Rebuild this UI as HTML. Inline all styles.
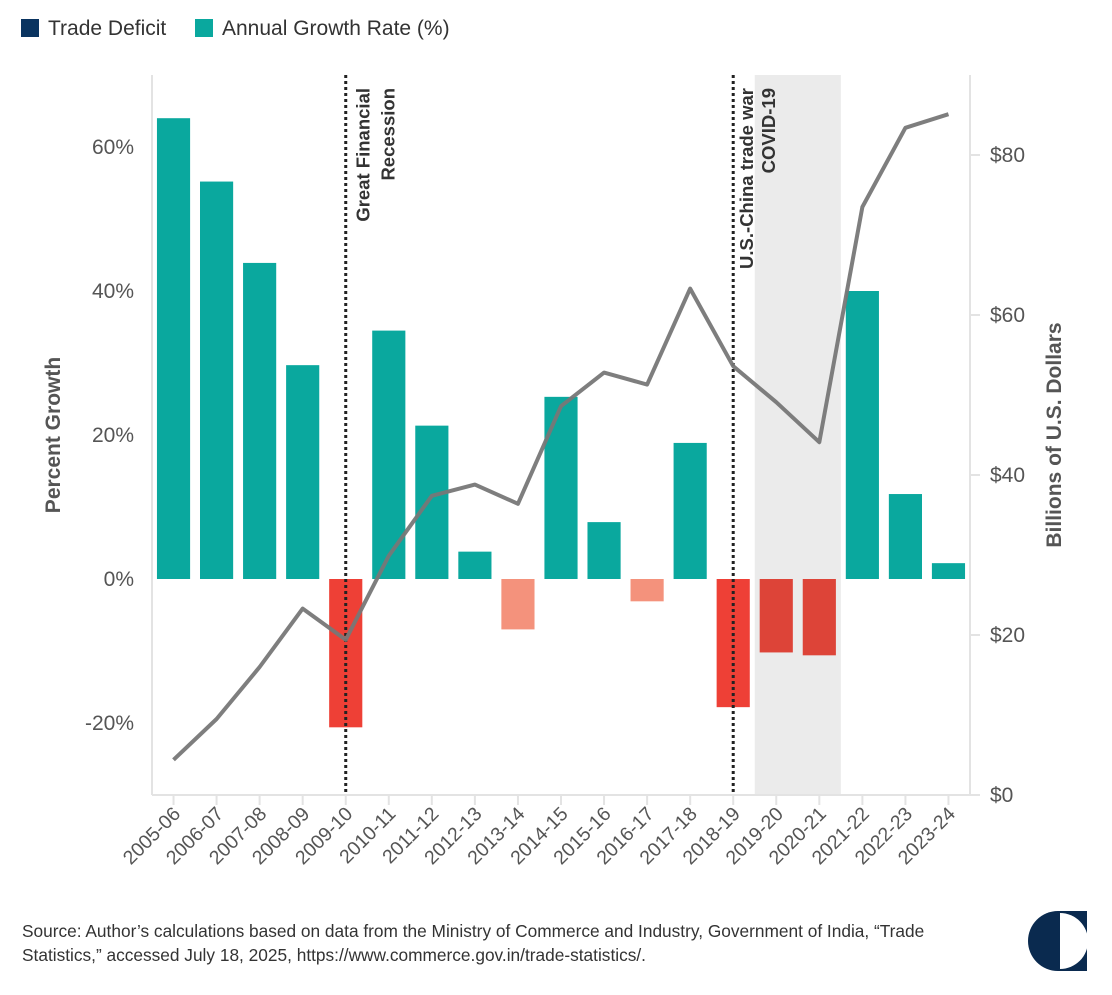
<!DOCTYPE html>
<html><head><meta charset="utf-8"><style>
body{margin:0;background:#fff;width:1112px;height:990px;overflow:hidden;font-family:"Liberation Sans",sans-serif;color:#333}
</style></head><body>
<svg id="chart" width="1112" height="990" xmlns="http://www.w3.org/2000/svg" font-family="Liberation Sans, sans-serif">
<g>
<rect x="21" y="19" width="18" height="18" fill="#0a3460"/>
<text x="48" y="35" font-size="21" fill="#333">Trade Deficit</text>
<rect x="195" y="19" width="18" height="18" fill="#0aa89e"/>
<text x="222" y="35" font-size="21" fill="#333">Annual Growth Rate (%)</text>
</g>
<g id="plot"></g>
<text x="22" y="937" font-size="17.3" fill="#333">Source: Author’s calculations based on data from the Ministry of Commerce and Industry, Government of India, “Trade</text>
<text x="22" y="961" font-size="17.3" fill="#333">Statistics,” accessed July 18, 2025, https://www.commerce.gov.in/trade-statistics/.</text>
<g>
<path d="M1058 911 A30 30 0 0 0 1058 971 Z" fill="#0a2a4f"/>
<rect x="1058" y="911" width="29" height="60" fill="#0a2a4f"/>
<path d="M1060 913 A28 28 0 0 1 1060 969 Z" fill="#fff"/>
</g>
</svg>
<script>
const categories=["2005-06","2006-07","2007-08","2008-09","2009-10","2010-11","2011-12","2012-13","2013-14","2014-15","2015-16","2016-17","2017-18","2018-19","2019-20","2020-21","2021-22","2022-23","2023-24"];
const growthValues=[64,55.2,43.9,29.7,-20.6,34.5,21.3,3.8,-7.0,25.3,7.9,-3.1,18.9,-17.8,-10.2,-10.6,40,11.8,2.2];
const deficitValues=[4.4,9.5,16,23.3,19.4,29.9,37.4,38.8,36.4,48.6,52.8,51.3,63.3,53.6,49.1,44.1,73.5,83.4,85.1];
const leftTicks=[-20,0,20,40,60];
const leftTickLabels=["-20%","0%","20%","40%","60%"];
const rightTicks=[0,20,40,60,80];
const rightTickLabels=["$0","$20","$40","$60","$80"];
const eventLines=["2009-10","2018-19"];
const shadedRange=["2019-20","2020-21"];

const NS="http://www.w3.org/2000/svg";
const g=document.getElementById('plot');
const L=152,R=970,T=75,B=795;
const bw=(R-L)/categories.length;
const xc=i=>L+bw*(i+0.5);
const yL=v=>B-(v+30)/100*(B-T);
const yR=v=>B-v/90*(B-T);
function mk(t,a){const e=document.createElementNS(NS,t);for(const k in a)e.setAttribute(k,a[k]);g.appendChild(e);return e;}

const s0=categories.indexOf(shadedRange[0]),s1=categories.indexOf(shadedRange[1]);
const sh=mk('rect',{x:L+bw*s0,y:T,width:bw*(s1-s0+1),height:B-T,fill:'#ebebeb'});



const axl=mk('line',{x1:L,y1:T,x2:L,y2:B,stroke:'#e3e3e3','stroke-width':2});


const axr=mk('line',{x1:R,y1:T,x2:R,y2:B,stroke:'#e3e3e3','stroke-width':2});


const axb=mk('line',{x1:L,y1:B,x2:R+10,y2:B,stroke:'#e3e3e3','stroke-width':2});



leftTicks.forEach((v,i)=>{
  const t=mk('text',{x:L-18,y:yL(v)+7,'text-anchor':'end','font-size':21,fill:'#555'});
  t.textContent=leftTickLabels[i];
  
  
});
rightTicks.forEach((v,i)=>{
  const tk=mk('line',{x1:R,y1:yR(v),x2:R+10,y2:yR(v),stroke:'#e3e3e3','stroke-width':2});
  
  
  const t=mk('text',{x:R+20,y:yR(v)+7,'font-size':21,fill:'#555'});
  t.textContent=rightTickLabels[i];
  
  
});

function barColor(v){if(v>=0)return '#0aa89e';if(v<-15)return '#ee4036';if(v<-8)return '#dd4438';return '#f4927c';}
growthValues.forEach((v,i)=>{
  const y0=yL(0),y1=yL(v);
  const r=mk('rect',{x:xc(i)-bw*0.385,y:Math.min(y0,y1),width:bw*0.77,height:Math.abs(y1-y0),fill:barColor(v)});
  
  
  const tk=mk('line',{x1:xc(i),y1:B,x2:xc(i),y2:B+10,stroke:'#e3e3e3','stroke-width':2});
  
  
  const t=mk('text',{x:xc(i)+8,y:B+20,'text-anchor':'end','font-size':19.5,fill:'#555',transform:`rotate(-45 ${xc(i)+8} ${B+20})`});
  t.textContent=categories[i];
  
  
});

eventLines.forEach(c=>{
  const i=categories.indexOf(c);
  const l=mk('line',{x1:xc(i),y1:T,x2:xc(i),y2:B,stroke:'#222','stroke-width':3,'stroke-dasharray':'3 3'});
  
  
});

function vtext(x,y,txt,name){
  const t=mk('text',{x:x,y:y,'text-anchor':'end','font-size':18.5,'font-weight':'bold',fill:'#333',transform:`rotate(-90 ${x} ${y})`});
  t.textContent=txt;
  
  
}
const gi=categories.indexOf('2009-10'),ci=categories.indexOf('2018-19');
vtext(xc(gi)+24,88,'Great Financial','annotation-gfr-line1');
vtext(xc(gi)+49,88,'Recession','annotation-gfr-line2');
vtext(xc(ci)+20,88,'U.S.-China trade war','annotation-trade-war');
vtext(xc(ci)+42,88,'COVID-19','annotation-covid');

const pts=deficitValues.map((v,i)=>xc(i)+','+yR(v)).join(' ');
const pl=mk('polyline',{points:pts,fill:'none',stroke:'#777','stroke-width':4,'stroke-linejoin':'round',opacity:0.95});



const yl=mk('text',{x:60,y:435,'text-anchor':'middle','font-size':21,'font-weight':'bold',fill:'#555',transform:`rotate(-90 60 435)`});
yl.textContent='Percent Growth';


const yr=mk('text',{x:1061,y:435,'text-anchor':'middle','font-size':21,'font-weight':'bold',fill:'#555',transform:`rotate(-90 1061 435)`});
yr.textContent='Billions of U.S. Dollars';


</script>
</body></html>
